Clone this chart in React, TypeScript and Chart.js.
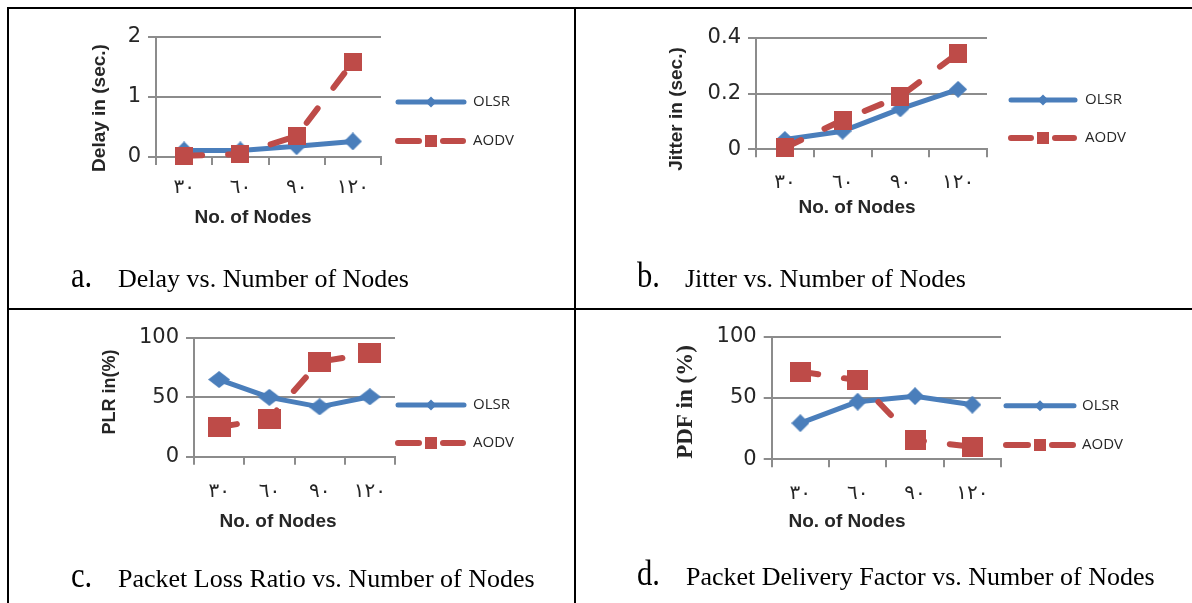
import React, { useEffect, useRef } from "react";
import { Chart, registerables } from "chart.js";

Chart.register(...registerables);

// ---------- data ----------
const categories = ["٣٠", "٦٠", "٩٠", "١٢٠"];
const seriesLabels = ["OLSR", "AODV"];

const delayOLSR = [0.11, 0.11, 0.18, 0.26];
const delayAODV = [0.02, 0.05, 0.35, 1.58];
const delayTicks = [0, 1, 2];

const jitterOLSR = [0.035, 0.065, 0.145, 0.215];
const jitterAODV = [0.005, 0.105, 0.19, 0.345];
const jitterTicks = [0, 0.2, 0.4];

const plrOLSR = [65, 50, 42, 50.5];
const plrAODV = [25, 32, 80, 87];
const plrTicks = [0, 50, 100];

const pdfOLSR = [29.5, 47, 51.5, 44.5];
const pdfAODV = [71.5, 64.5, 15.5, 10.3];
const pdfTicks = [0, 50, 100];

// ---------- styles ----------
const BLUE = "#4A7EBB";
const RED = "#BE4B48";
const GRID = "#8C8C8C";
const TEXT = "#262626";

type Shape = "diamond" | "square";

function drawShape(g: CanvasRenderingContext2D, shape: Shape, cx: number, cy: number, w: number, h: number, color: string) {
  g.save();
  g.fillStyle = color;
  if (shape === "diamond") {
    g.beginPath();
    g.moveTo(cx, cy - h / 2);
    g.lineTo(cx + w / 2, cy);
    g.lineTo(cx, cy + h / 2);
    g.lineTo(cx - w / 2, cy);
    g.closePath();
    g.fill();
  } else {
    g.fillRect(cx - w / 2, cy - h / 2, w, h);
  }
  g.restore();
}

function markerImage(shape: Shape, w: number, h: number, color: string) {
  const c = document.createElement("canvas");
  c.width = w;
  c.height = h;
  const g = c.getContext("2d")!;
  drawShape(g, shape, w / 2, h / 2, w, h, color);
  return c;
}

type PanelSpec = {
  key: string;
  cell: { x: number; y: number; w: number; h: number };
  area: { l: number; t: number; r: number; b: number };
  olsr: number[];
  aodv: number[];
  ticks: number[];
  yTitle: { text: string; x: number; y: number; font: string };
  xTitle: { text: string; x: number; y: number; font: string };
  legend: { x0: number; x1: number; textX: number; y1: number; y2: number };
  caption: { label: string; text: string; labelX: number; textX: number; baseline: number };
  catPad: number;
  diamond: [number, number];
  square: [number, number];
};

const xTitleFont = 'bold 19px "Liberation Sans"';

const panels: PanelSpec[] = [
  {
    key: "a",
    cell: { x: 9, y: 9, w: 565, h: 299 },
    area: { l: 156, t: 37, r: 381, b: 157 },
    olsr: delayOLSR,
    aodv: delayAODV,
    ticks: delayTicks,
    yTitle: { text: "Delay in (sec.)", x: 100, y: 108, font: 'bold 19px "Liberation Sans"' },
    xTitle: { text: "No. of Nodes", x: 253, y: 218, font: xTitleFont },
    legend: { x0: 395, x1: 467, textX: 473, y1: 102, y2: 141 },
    caption: { label: "a.", text: "Delay vs. Number of Nodes", labelX: 71, textX: 118, baseline: 287 },
    catPad: 11,
    diamond: [18, 18],
    square: [18, 18],
  },
  {
    key: "b",
    cell: { x: 576, y: 9, w: 616, h: 299 },
    area: { l: 756, t: 37.7, r: 987, b: 149.3 },
    olsr: jitterOLSR,
    aodv: jitterAODV,
    ticks: jitterTicks,
    yTitle: { text: "Jitter in (sec.)", x: 677, y: 109, font: 'bold 19px "Liberation Sans"' },
    xTitle: { text: "No. of Nodes", x: 857, y: 208, font: xTitleFont },
    legend: { x0: 1008, x1: 1078, textX: 1085, y1: 100, y2: 138 },
    caption: { label: "b.", text: "Jitter vs. Number of Nodes", labelX: 637, textX: 685, baseline: 287 },
    catPad: 13,
    diamond: [18, 17],
    square: [18, 19],
  },
  {
    key: "c",
    cell: { x: 9, y: 310, w: 565, h: 293 },
    area: { l: 194, t: 338, r: 395, b: 456.7 },
    olsr: plrOLSR,
    aodv: plrAODV,
    ticks: plrTicks,
    yTitle: { text: "PLR in(%)", x: 110, y: 392, font: 'bold 18px "Liberation Sans"' },
    xTitle: { text: "No. of Nodes", x: 278, y: 522, font: xTitleFont },
    legend: { x0: 395, x1: 467, textX: 473, y1: 405, y2: 443 },
    caption: { label: "c.", text: "Packet Loss Ratio vs. Number of Nodes", labelX: 71, textX: 118, baseline: 587 },
    catPad: 15.5,
    diamond: [22, 17],
    square: [23, 20],
  },
  {
    key: "d",
    cell: { x: 576, y: 310, w: 616, h: 293 },
    area: { l: 771.7, t: 336.7, r: 1001, b: 459.3 },
    olsr: pdfOLSR,
    aodv: pdfAODV,
    ticks: pdfTicks,
    yTitle: { text: "PDF in (%)", x: 686, y: 402, font: 'bold 23px "Liberation Serif"' },
    xTitle: { text: "No. of Nodes", x: 847, y: 522, font: xTitleFont },
    legend: { x0: 1003, x1: 1077, textX: 1082, y1: 405.7, y2: 445 },
    caption: { label: "d.", text: "Packet Delivery Factor vs. Number of Nodes", labelX: 637, textX: 686, baseline: 585 },
    catPad: 14,
    diamond: [18, 18],
    square: [21, 20],
  },
];

const decorPlugin = {
  id: "decor",
  afterDraw(chart: any, _args: any, o: any) {
    const ctx = chart.ctx as CanvasRenderingContext2D;
    ctx.save();
    ctx.translate(-o.ox, -o.oy);
    ctx.fillStyle = TEXT;
    ctx.textAlign = "center";
    ctx.textBaseline = "middle";

    // y-axis title
    ctx.save();
    ctx.translate(o.yTitle.x, o.yTitle.y);
    ctx.rotate(-Math.PI / 2);
    ctx.font = o.yTitle.font;
    ctx.fillText(o.yTitle.text, 0, 0);
    ctx.restore();

    // x-axis title
    ctx.font = o.xTitle.font;
    ctx.fillText(o.xTitle.text, o.xTitle.x, o.xTitle.y);

    // legend
    const lg = o.legend;
    chart.data.datasets.forEach((ds: any, i: number) => {
      const y = i === 0 ? lg.y1 : lg.y2;
      const mid = (lg.x0 + lg.x1) / 2;
      ctx.save();
      ctx.strokeStyle = ds.borderColor;
      ctx.lineWidth = ds.borderWidth;
      ctx.lineCap = "round";
      ctx.beginPath();
      if (ds.borderDash && ds.borderDash.length) {
        ctx.moveTo(lg.x0 + 3, y);
        ctx.lineTo(mid - 12, y);
        ctx.moveTo(mid + 12, y);
        ctx.lineTo(lg.x1 - 4, y);
      } else {
        ctx.moveTo(lg.x0 + 3, y);
        ctx.lineTo(lg.x1 - 3, y);
      }
      ctx.stroke();
      if (ds.legendShape === "diamond") drawShape(ctx, "diamond", mid, y, 11, 11, ds.borderColor);
      else drawShape(ctx, "square", mid, y, 12, 12, ds.borderColor);
      ctx.restore();
      ctx.fillStyle = TEXT;
      ctx.font = '15px "Open Sans"';
      ctx.textAlign = "left";
      ctx.textBaseline = "middle";
      ctx.fillText(ds.label, lg.textX, y);
    });

    // caption
    const c = o.caption;
    ctx.fillStyle = "#000";
    ctx.textAlign = "left";
    ctx.textBaseline = "alphabetic";
    ctx.save();
    ctx.translate(c.labelX, c.baseline);
    ctx.scale(0.85, 1);
    ctx.font = '36px "Liberation Serif"';
    ctx.fillText(c.label, 0, 0);
    ctx.restore();
    ctx.font = '26px "Liberation Serif"';
    ctx.fillText(c.text, c.textX, c.baseline);

    ctx.restore();
  },
};

function buildConfig(p: PanelSpec): any {
  const ox = p.cell.x;
  const oy = p.cell.y;
  const padTop = p.area.t - oy;
  const padRight = ox + p.cell.w - p.area.r;
  const yWidth = p.area.l - ox;
  const xHeight = oy + p.cell.h - p.area.b;
  const tickFont = { family: "DejaVu Sans", size: 21, lineHeight: 1.2 };
  return {
    type: "line",
    data: {
      labels: categories,
      datasets: [
        {
          label: seriesLabels[0],
          data: p.olsr,
          borderColor: BLUE,
          backgroundColor: BLUE,
          borderWidth: 5,
          borderCapStyle: "round",
          borderJoinStyle: "round",
          tension: 0,
          pointStyle: markerImage("diamond", p.diamond[0], p.diamond[1], BLUE),
          pointRadius: 6,
          clip: false,
          order: 1,
          legendShape: "diamond",
        },
        {
          label: seriesLabels[1],
          data: p.aodv,
          borderColor: RED,
          backgroundColor: RED,
          borderWidth: 6,
          borderDash: [18, 26],
          borderCapStyle: "round",
          borderJoinStyle: "round",
          tension: 0,
          pointStyle: markerImage("square", p.square[0], p.square[1], RED),
          pointRadius: 6,
          clip: false,
          order: 0,
          legendShape: "square",
        },
      ],
    },
    options: {
      animation: false,
      responsive: false,
      maintainAspectRatio: false,
      events: [],
      layout: { padding: { left: 0, top: padTop, right: padRight, bottom: 0 } },
      plugins: {
        legend: { display: false },
        tooltip: { enabled: false },
        title: { display: false },
        decor: {
          ox,
          oy,
          yTitle: p.yTitle,
          xTitle: p.xTitle,
          legend: p.legend,
          caption: p.caption,
        },
      },
      scales: {
        x: {
          type: "category",
          offset: true,
          grid: {
            display: true,
            drawOnChartArea: false,
            drawTicks: true,
            tickLength: 8,
            color: GRID,
            lineWidth: 2,
            offset: true,
          },
          border: { display: true, color: GRID, width: 2 },
          ticks: {
            font: { family: "DejaVu Sans", size: 20, lineHeight: 1.2 },
            color: TEXT,
            padding: p.catPad,
            autoSkip: false,
            maxRotation: 0,
          },
          afterFit: (s: any) => {
            s.height = xHeight;
          },
        },
        y: {
          type: "linear",
          min: p.ticks[0],
          max: p.ticks[p.ticks.length - 1],
          afterBuildTicks: (s: any) => {
            s.ticks = p.ticks.map((v) => ({ value: v }));
          },
          grid: { color: GRID, lineWidth: 2, tickLength: 8, drawTicks: true },
          border: { display: true, color: GRID, width: 2 },
          ticks: { font: tickFont, color: TEXT, padding: 7 },
          afterFit: (s: any) => {
            s.width = yWidth;
          },
        },
      },
    },
    plugins: [decorPlugin],
  };
}

function Panel({ spec }: { spec: PanelSpec }) {
  const ref = useRef<HTMLCanvasElement>(null);
  useEffect(() => {
    const chart = new Chart(ref.current as HTMLCanvasElement, buildConfig(spec));
    return () => chart.destroy();
  }, [spec]);
  return (
    <canvas
      ref={ref}
      width={spec.cell.w}
      height={spec.cell.h}
      style={{
        position: "absolute",
        left: spec.cell.x,
        top: spec.cell.y,
        width: spec.cell.w,
        height: spec.cell.h,
      }}
    />
  );
}

const lineStyle = (left: number, top: number, width: number, height: number): React.CSSProperties => ({
  position: "absolute",
  left,
  top,
  width,
  height,
  background: "#000",
});

export default function App() {
  return (
    <div
      style={{
        position: "absolute",
        left: 0,
        top: 0,
        width: 1192,
        height: 603,
        overflow: "hidden",
        background: "#fff",
      }}
    >
      {panels.map((p) => (
        <Panel key={p.key} spec={p} />
      ))}
      <div style={lineStyle(7, 7, 1185, 2)} />
      <div style={lineStyle(7, 7, 2, 596)} />
      <div style={lineStyle(574, 7, 2, 596)} />
      <div style={lineStyle(7, 308, 1185, 2)} />
    </div>
  );
}
